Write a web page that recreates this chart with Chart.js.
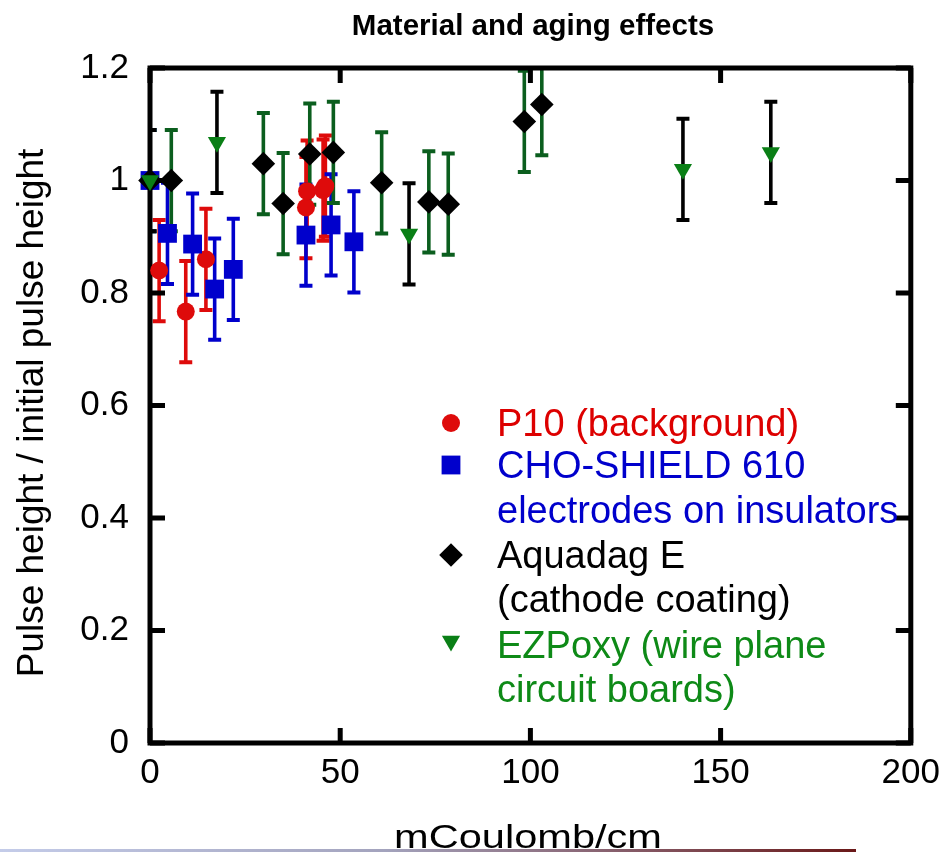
<!DOCTYPE html>
<html><head><meta charset="utf-8">
<script src="https://cdn.jsdelivr.net/npm/chart.js@4.4.1/dist/chart.umd.min.js"></script>
<style>
html,body{margin:0;padding:0;background:#fff;overflow:hidden}
#wrap{position:relative;width:949px;height:852px}
#c{display:block}
#rule{position:absolute;left:0;top:849px;width:856px;height:3px;background:linear-gradient(90deg,#c4cce9 0%,#a3a3bd 45%,#6a1818 100%)}
</style>
</head><body>
<div id="wrap"><canvas id="c" width="949" height="852"></canvas><div id="rule"></div></div>
<script>
// ---- text ----
const chartTitle = 'Material and aging effects';
const xTitle = 'mCoulomb/cm';
const yTitle = 'Pulse height / initial pulse height';
const xTicks = [0, 50, 100, 150, 200];
const yTicks = [0, 0.2, 0.4, 0.6, 0.8, 1.0, 1.2];

// ---- data ----
const p10X   = [2.4, 9.4, 14.7, 41.0, 41.3, 45.5, 46.1];
const p10Y   = [0.840, 0.767, 0.860, 0.952, 0.981, 0.983, 0.990];
const p10Err = [0.09, 0.09, 0.09, 0.09, 0.09, 0.09, 0.09];

const choX   = [0, 4.6, 11.2, 17.0, 21.9, 41.0, 47.6, 53.6];
const choY   = [1.000, 0.906, 0.887, 0.807, 0.842, 0.903, 0.921, 0.891];
const choErr = [0.09, 0.09, 0.09, 0.09, 0.09, 0.09, 0.09, 0.09];

const aquaX   = [0, 5.6, 29.8, 35.0, 42.0, 48.2, 60.9, 73.3, 78.4, 98.4, 103.0];
const aquaY   = [1.000, 1.000, 1.030, 0.959, 1.047, 1.050, 0.996, 0.962, 0.958, 1.105, 1.135];
const aquaErr = [0.09, 0.09, 0.09, 0.09, 0.09, 0.09, 0.09, 0.09, 0.09, 0.09, 0.09];

const ezX   = [0, 17.6, 68.1, 140.1, 163.2];
const ezY   = [1.000, 1.068, 0.905, 1.020, 1.050];
const ezErr = [0.09, 0.09, 0.09, 0.09, 0.09];

const legendLabels = [
  ['P10 (background)'],
  ['CHO-SHIELD 610', 'electrodes on insulators'],
  ['Aquadag E', '(cathode coating)'],
  ['EZPoxy (wire plane', 'circuit boards)']
];

// ---- styles ----
const FONT = "'Liberation Sans', Arial, Helvetica, sans-serif";
const RED = '#de0b0b', BLUE = '#0000cc', BLACK = '#000000', GREEN = '#0a7f16', DKGREEN = '#0b5e1e';

const pts = (xs, ys) => xs.map((x, i) => ({x: x, y: ys[i]}));

const datasets = [
  {label: legendLabels[0].join(' '), data: pts(p10X, p10Y), errs: p10Err, errColor: RED,
   pointStyle: 'circle', pointRadius: 9, pointRotation: 0, backgroundColor: RED, textColor: '#dd0000', order: 3},
  {label: legendLabels[1].join(' '), data: pts(choX, choY), errs: choErr, errColor: BLUE,
   pointStyle: 'rect', pointRadius: 13.3, pointRotation: 0, backgroundColor: BLUE, textColor: '#0000cc', order: 2},
  {label: legendLabels[2].join(' '), data: pts(aquaX, aquaY), errs: aquaErr, errColor: DKGREEN,
   pointStyle: 'rectRot', pointRadius: 11.8, pointRotation: 0, backgroundColor: BLACK, textColor: '#000000', order: 1},
  {label: legendLabels[3].join(' '), data: pts(ezX, ezY), errs: ezErr, errColor: BLACK,
   pointStyle: 'triangle', pointRadius: 10.5, pointRotation: 180, backgroundColor: GREEN, textColor: '#0e8a17', order: 0}
];
datasets.forEach(d => { d.borderWidth = 0; d.pointBorderWidth = 0; d.pointHoverRadius = d.pointRadius; d.clip = false; });

const frameAndBars = {
  id: 'frameAndBars',
  beforeDatasetsDraw(chart) {
    const {ctx, chartArea: a, scales: {x, y}} = chart;
    // error bars
    ctx.save();
    ctx.beginPath(); ctx.rect(a.left, a.top, a.right - a.left, a.bottom - a.top); ctx.clip();
    chart.data.datasets.forEach(ds => {
      ctx.strokeStyle = ds.errColor;
      ds.data.forEach((p, j) => {
        const e = ds.errs[j];
        const px = x.getPixelForValue(p.x);
        const t = y.getPixelForValue(p.y + e), b = y.getPixelForValue(p.y - e);
        ctx.lineWidth = 3.6; ctx.lineCap = 'butt';
        ctx.beginPath(); ctx.moveTo(px, t); ctx.lineTo(px, b); ctx.stroke();
        ctx.lineWidth = 4;
        ctx.beginPath();
        ctx.moveTo(px - 6.5, t); ctx.lineTo(px + 6.5, t);
        ctx.moveTo(px - 6.5, b); ctx.lineTo(px + 6.5, b);
        ctx.stroke();
      });
    });
    ctx.restore();
    // frame and inward ticks
    ctx.save();
    ctx.strokeStyle = '#000'; ctx.lineWidth = 5;
    ctx.strokeRect(a.left, a.top, a.right - a.left, a.bottom - a.top);
    const L = 15;
    ctx.beginPath();
    xTicks.forEach(v => {
      const px = x.getPixelForValue(v);
      ctx.moveTo(px, a.bottom); ctx.lineTo(px, a.bottom - L);
      ctx.moveTo(px, a.top); ctx.lineTo(px, a.top + L);
    });
    yTicks.forEach(v => {
      const py = y.getPixelForValue(v);
      ctx.moveTo(a.left, py); ctx.lineTo(a.left + L, py);
      ctx.moveTo(a.right, py); ctx.lineTo(a.right - L, py);
    });
    ctx.stroke();
    ctx.restore();
  },
  afterDraw(chart) {
    const {ctx} = chart;
    ctx.save();
    ctx.fillStyle = '#000';
    // chart title
    ctx.font = 'bold 29.5px ' + FONT;
    ctx.textAlign = 'center'; ctx.textBaseline = 'alphabetic';
    ctx.fillText(chartTitle, 533, 35);
    // x-axis title (horizontally stretched as in original)
    ctx.save();
    ctx.font = '33px ' + FONT;
    ctx.translate(528, 848);
    ctx.scale(1.26, 1);
    ctx.fillText(xTitle, 0, 0);
    ctx.restore();
    // y-axis title
    ctx.save();
    ctx.font = '37px ' + FONT;
    ctx.translate(33, 413);
    ctx.rotate(-Math.PI / 2);
    ctx.textBaseline = 'middle';
    ctx.fillText(yTitle, 0, 0);
    ctx.restore();
    // legend
    const markerX = 451, textX = 497;
    const markerY = [423, 465, 555, 641];
    const textY = [[426], [468, 513], [558, 602], [648, 692]];
    chart.data.datasets.forEach((ds, i) => {
      ctx.fillStyle = ds.backgroundColor;
      Chart.helpers.drawPoint(ctx, {pointStyle: ds.pointStyle, radius: ds.pointRadius, rotation: ds.pointRotation, borderWidth: 0}, markerX, markerY[i]);
      ctx.font = '38px ' + FONT;
      ctx.textAlign = 'left'; ctx.textBaseline = 'middle';
      ctx.fillStyle = ds.textColor;
      legendLabels[i].forEach((line, k) => ctx.fillText(line, textX, textY[i][k]));
    });
    ctx.restore();
  }
};

new Chart(document.getElementById('c'), {
  type: 'scatter',
  data: {datasets: datasets},
  options: {
    responsive: false, animation: false, devicePixelRatio: 1,
    layout: {padding: {left: 0, right: 36, top: 68, bottom: 0}},
    plugins: {legend: {display: false}, tooltip: {enabled: false}, title: {display: false}},
    elements: {point: {borderWidth: 0}},
    scales: {
      x: {
        type: 'linear', min: 0, max: 200,
        afterBuildTicks: s => { s.ticks = xTicks.map(v => ({value: v})); },
        grid: {display: false, drawTicks: false}, border: {display: false},
        ticks: {font: {family: FONT, size: 35}, color: '#000', padding: 9, maxRotation: 0,
                callback: v => String(v)},
        afterFit: s => { s.height = 109; }
      },
      y: {
        type: 'linear', min: 0, max: 1.2,
        afterBuildTicks: s => { s.ticks = yTicks.map(v => ({value: v})); },
        grid: {display: false, drawTicks: false}, border: {display: false},
        ticks: {font: {family: FONT, size: 35}, color: '#000', padding: 21,
                callback: v => String(+Number(v).toFixed(1))},
        title: {display: false},
        afterFit: s => { s.width = 150; }
      }
    }
  },
  plugins: [frameAndBars]
});
</script>
</body></html>
